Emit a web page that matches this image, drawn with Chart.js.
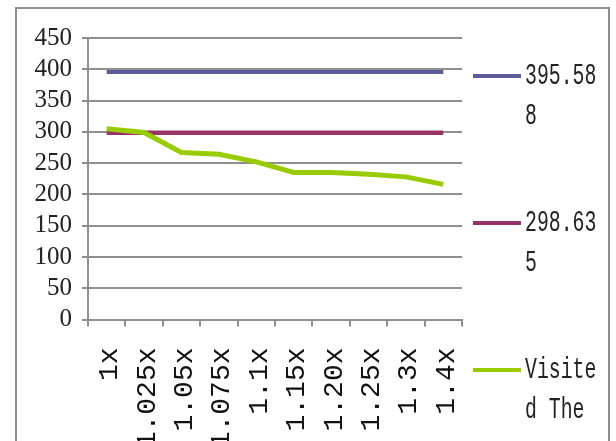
<!DOCTYPE html>
<html>
<head>
<meta charset="utf-8">
<script src="https://cdn.jsdelivr.net/npm/chart.js@4.4.0/dist/chart.umd.min.js"></script>
<style>
    html, body { margin: 0; padding: 0; background: #fff; overflow: hidden; }
    #wrap { position: relative; width: 616px; height: 441px; }
    #frame { position: absolute; left: 15px; top: 7px; width: 591px; height: 470px;
             border: 2px solid #8e8e8e; pointer-events: none; }
</style>
</head>
<body>
<div id="wrap">
    <canvas id="myChart" width="616" height="441"></canvas>
    <div id="frame"></div>
</div>
<script>
// speed steps on the x axis
const categories = ['1x', '1.025x', '1.05x', '1.075x', '1.1x', '1.15x', '1.20x', '1.25x', '1.3x', '1.4x'];

// series values
const upperLine = [395.588, 395.588, 395.588, 395.588, 395.588, 395.588, 395.588, 395.588, 395.588, 395.588];
const lowerLine = [298.635, 298.635, 298.635, 298.635, 298.635, 298.635, 298.635, 298.635, 298.635, 298.635];
const visited = [305, 299, 267, 264, 252, 235, 235, 232, 228, 216];

const seriesNames = ['395.588', '298.635', 'Visited The'];

// y axis ticks
const yMin = 0;
const yMax = 450;
const yStep = 50;

const gridColor = '#8f8f8f';

// legend on the right, labels broken every 6 characters like the old excel legend
// (mono font squeezed sideways so it looks like the narrow song-style digits)
const sideLegend = {
    id: 'sideLegend',
    afterDraw(chart) {
        const ctx = chart.ctx;
        chart.data.datasets.forEach(function(ds, i) {
            const y = 76 + i * 147;
            ctx.save();
            ctx.strokeStyle = ds.borderColor;
            ctx.lineWidth = 4;
            ctx.beginPath();
            ctx.moveTo(473, y);
            ctx.lineTo(521, y);
            ctx.stroke();

            ctx.fillStyle = '#222';
            ctx.font = "30px 'Liberation Mono', monospace";
            ctx.textBaseline = 'middle';
            const lines = ds.label.match(/.{1,6}/g);
            ctx.translate(525, y);
            ctx.scale(0.66, 1);
            lines.forEach(function(t, j) {
                ctx.fillText(t, 0, j * 40);
            });
            ctx.restore();
        });
    }
};

const chartData = {
    labels: categories,
    datasets: [{
        label: seriesNames[0],
        data: upperLine,
        borderColor: '#5b5b9b',
        borderWidth: 4,
        order: 2
    }, {
        label: seriesNames[1],
        data: lowerLine,
        borderColor: '#993366',
        borderWidth: 4.5,
        order: 1
    }, {
        label: seriesNames[2],
        data: visited,
        borderColor: '#99cc00',
        borderWidth: 5,
        order: 0
    }]
};

const config = {
    type: 'line',
    data: chartData,
    plugins: [sideLegend],
    options: {
        responsive: false,
        animation: false,
        devicePixelRatio: 1,
        elements: {
            point: { radius: 0 },
            line: { tension: 0, borderCapStyle: 'butt' }
        },
        layout: {
            padding: { left: 0, right: 154, top: 38, bottom: 0 }
        },
        plugins: {
            legend: { display: false },
            tooltip: { enabled: false }
        },
        scales: {
            x: {
                type: 'category',
                offset: true,
                grid: {
                    offset: true,
                    drawOnChartArea: false,
                    drawTicks: true,
                    tickLength: 7,
                    color: gridColor,
                    lineWidth: 2
                },
                border: { color: gridColor, width: 2 },
                ticks: {
                    autoSkip: false,
                    minRotation: 90,
                    maxRotation: 90,
                    padding: 21,
                    labelOffset: 3,
                    color: '#111',
                    font: { family: "'Liberation Mono', monospace", size: 28 }
                },
                afterFit: function(scale) { scale.height = 121.5; }
            },
            y: {
                min: yMin,
                max: yMax,
                grid: {
                    color: gridColor,
                    lineWidth: 2,
                    tickLength: 6
                },
                border: { color: gridColor, width: 2 },
                ticks: {
                    stepSize: yStep,
                    autoSkip: false,
                    padding: 10,
                    color: '#222',
                    font: { family: "'Liberation Serif', serif", size: 25 }
                },
                afterFit: function(scale) { scale.width = 88; }
            }
        }
    }
};

var myChart = new Chart(document.getElementById('myChart'), config);
</script>
</body>
</html>
